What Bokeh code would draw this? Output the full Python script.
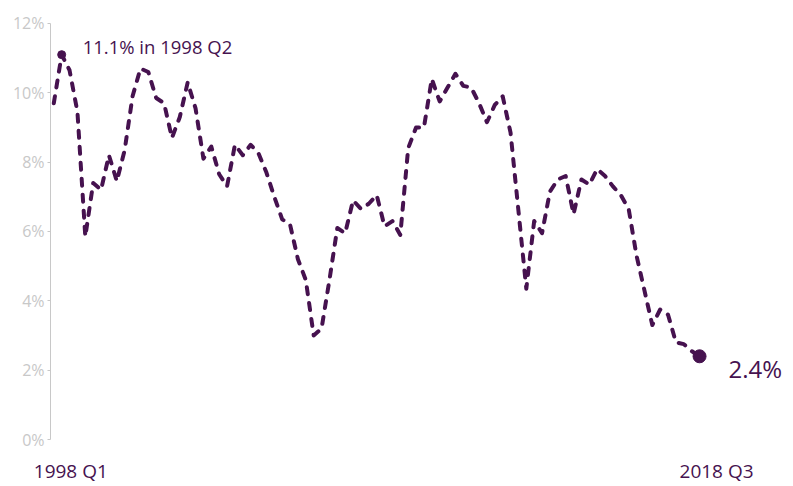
from bokeh.plotting import figure
from bokeh.models import (ColumnDataSource, Range1d, PrintfTickFormatter, FixedTicker,
                          LinearAxis)
from bokeh.core.properties import value
from bokeh.embed import file_html
from bokeh.resources import INLINE

# Quarterly rate, 1998 Q1 .. 2018 Q3 (percent)
rate = [9.7, 11.1, 10.65, 9.45, 5.85, 7.4, 7.2, 8.2, 7.45, 8.35,
        9.9, 10.7, 10.6, 9.85, 9.7, 8.7, 9.3, 10.3, 9.55, 8.1,
        8.45, 7.65, 7.3, 8.5, 8.2, 8.5, 8.25, 7.7, 7.0, 6.35,
        6.2, 5.2, 4.6, 3.0, 3.2, 4.6, 6.1, 5.95, 6.9, 6.65,
        6.8, 7.05, 6.15, 6.3, 5.9, 8.4, 9.0, 9.0, 10.4, 9.75,
        10.15, 10.55, 10.2, 10.15, 9.7, 9.15, 9.65, 9.9, 8.85, 6.6,
        4.35, 6.3, 5.95, 7.15, 7.5, 7.6, 6.5, 7.5, 7.35, 7.8,
        7.6, 7.3, 7.05, 6.65, 5.3, 4.3, 3.3, 3.75, 3.6, 2.8,
        2.75, 2.55, 2.4]
quarters = [f"{1998 + i // 4} Q{i % 4 + 1}" for i in range(len(rate))]
y_ticks = [0, 2, 4, 6, 8, 10, 12]
end_labels = {0: quarters[0], len(rate) - 1: quarters[-1]}

PURPLE = "#46124f"
GREY = "#c8c8c8"
FONT = "Open Sans"

X0, X1 = -0.42, 93.93
LAB_SHIFT = 17 / 7.875  # end labels sit a little right of their quarter

idx = list(range(len(rate)))
src = ColumnDataSource(dict(x=idx, y=rate, q=quarters))

p = figure(width=793, height=486, output_backend="svg", toolbar_location=None,
           x_axis_location=None,
           x_range=Range1d(X0, X1), y_range=Range1d(0, 12.662),
           min_border_left=50, min_border_right=0, min_border_top=0, min_border_bottom=46)
p.outline_line_color = None
p.grid.visible = False

ax = p.yaxis[0]
ax.ticker = FixedTicker(ticks=y_ticks)
ax.formatter = PrintfTickFormatter(format="%d%%")
ax.bounds = (0, 12)
ax.axis_line_color = GREY
ax.major_tick_line_color = GREY
ax.major_tick_out = 3
ax.major_tick_in = 0
ax.minor_tick_line_color = None
ax.major_label_text_color = GREY
ax.major_label_text_font = FONT
ax.major_label_text_font_size = "16px"
ax.major_label_standoff = 3

# end-quarter labels as a bottom axis (no line, no ticks)
p.extra_x_ranges = {"lab": Range1d(X0 - LAB_SHIFT, X1 - LAB_SHIFT)}
xax = LinearAxis(x_range_name="lab", ticker=FixedTicker(ticks=list(end_labels.keys())),
                 major_label_overrides=end_labels)
xax.axis_line_color = None
xax.major_tick_line_color = None
xax.minor_tick_line_color = None
xax.major_tick_out = 0
xax.major_tick_in = 0
xax.major_label_standoff = 18
xax.major_label_text_color = PURPLE
xax.major_label_text_font = FONT
xax.major_label_text_font_size = "19px"
p.add_layout(xax, "below")

p.line("x", "y", source=src, line_color=PURPLE, line_width=4,
       line_dash="7 9", line_cap="round", line_join="round")

# peak marker + annotation
pk = rate.index(max(rate))
p.scatter([idx[pk]], [rate[pk]], size=8, color=PURPLE)
p.text([idx[pk]], [rate[pk]], text=[f"{rate[pk]:.1f}% in {quarters[pk]}"],
       x_offset=21, y_offset=-8, text_baseline="middle", text_align="left",
       text_color=PURPLE, text_font=value(FONT), text_font_size="18.5px")

# last marker + annotation
p.scatter([idx[-1]], [rate[-1]], size=13, color=PURPLE)
p.text([idx[-1]], [rate[-1]], text=[f"{rate[-1]:.1f}%"],
       x_offset=29, y_offset=12, text_baseline="middle", text_align="left",
       text_color=PURPLE, text_font=value(FONT), text_font_size="24px")

open("out.html", "w").write(file_html(p, INLINE))
